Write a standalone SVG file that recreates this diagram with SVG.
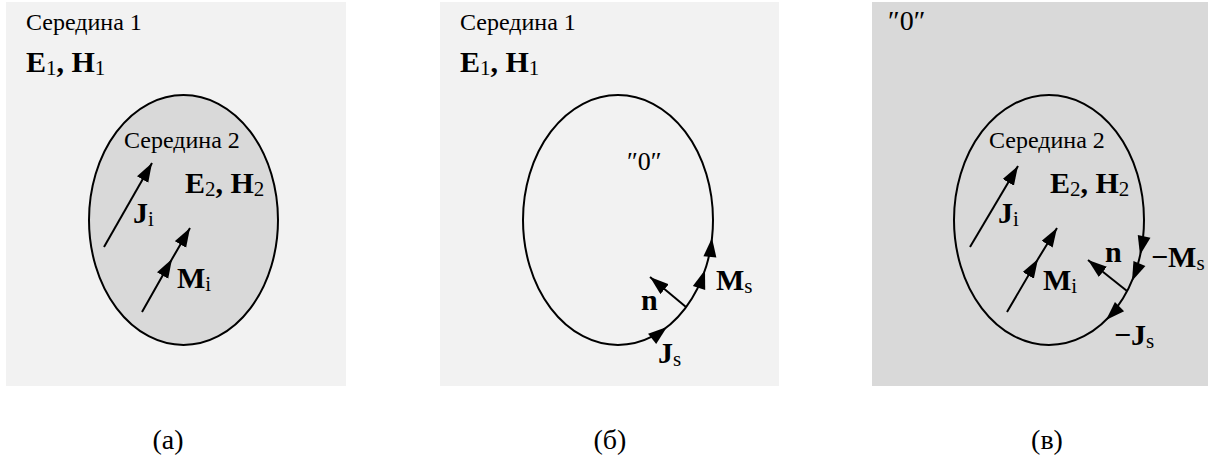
<svg xmlns="http://www.w3.org/2000/svg" width="1208" height="461" viewBox="0 0 1208 461">
<style>
text{font-family:"Liberation Serif","Times New Roman",serif;fill:#000}
.t{font-size:24px}
.z{font-size:26px}
.b{font-size:30px;font-weight:bold}
.s{font-size:21px;font-weight:normal}
.c{font-size:28px}
.ln{stroke:#000;stroke-width:2;fill:none}
.ah{fill:#000}
</style>
<defs>
<marker id="arr" markerUnits="userSpaceOnUse" markerWidth="20" markerHeight="14" refX="19" refY="6.5" orient="auto">
<path d="M0,0 L19,6.5 L0,13 z" fill="#000"/>
</marker>
<path id="ah" d="M0,0 L-19,-6.5 L-19,6.5 z"/>
</defs>
<g id="panel-a">
<rect x="6" y="2" width="340" height="384" fill="#f2f2f2"/>
<ellipse cx="183.5" cy="220" rx="94.5" ry="125" fill="#d9d9d9" stroke="#000" stroke-width="2"/>
<text class="t" x="26" y="30">Середина 1</text>
<text class="b" x="26" y="72">E<tspan class="s" dy="3">1</tspan><tspan dy="-3">, H</tspan><tspan class="s" dy="3">1</tspan></text>
<text class="t" x="124" y="148">Середина 2</text>
<text class="b" x="185" y="193">E<tspan class="s" dy="3">2</tspan><tspan dy="-3">, H</tspan><tspan class="s" dy="3">2</tspan></text>
<text class="b" x="133" y="223">J<tspan class="s" dy="3">i</tspan></text>
<text class="b" x="177" y="288">M<tspan class="s" dy="3">i</tspan></text>
</g>
<g id="panel-b">
<rect x="440" y="2" width="339" height="384" fill="#f2f2f2"/>
<ellipse cx="618" cy="220" rx="95" ry="125" fill="none" stroke="#000" stroke-width="2"/>
<text class="t" x="460" y="30">Середина 1</text>
<text class="b" x="460" y="72">E<tspan class="s" dy="3">1</tspan><tspan dy="-3">, H</tspan><tspan class="s" dy="3">1</tspan></text>
<text class="z" x="627" y="170">″0″</text>
<text class="b" x="641" y="310">n</text>
<text class="b" x="716" y="290">M<tspan class="s" dy="3">s</tspan></text>
<text class="b" x="658" y="363">J<tspan class="s" dy="3">s</tspan></text>
</g>
<g id="panel-c">
<rect x="872" y="2" width="336" height="384" fill="#d9d9d9"/>
<ellipse cx="1049" cy="220" rx="95" ry="125" fill="none" stroke="#000" stroke-width="2"/>
<text class="c" x="888" y="30">″0″</text>
<text class="t" x="989" y="148">Середина 2</text>
<text class="b" x="1050" y="193">E<tspan class="s" dy="3">2</tspan><tspan dy="-3">, H</tspan><tspan class="s" dy="3">2</tspan></text>
<text class="b" x="998" y="223">J<tspan class="s" dy="3">i</tspan></text>
<text class="b" x="1043" y="290">M<tspan class="s" dy="3">i</tspan></text>
<text class="b" x="1105" y="262">n</text>
<text class="b" x="1151" y="267">−M<tspan class="s" dy="3">s</tspan></text>
<text class="b" x="1114" y="345">−J<tspan class="s" dy="3">s</tspan></text>
</g>
<g id="captions">
<text class="c" x="168" y="449" text-anchor="middle">(a)</text>
<text class="c" x="610" y="449" text-anchor="middle">(б)</text>
<text class="c" x="1047" y="449" text-anchor="middle">(в)</text>
</g>
<g id="connectors">
<line class="ln" x1="104" y1="247" x2="152" y2="163" marker-end="url(#arr)"/>
<polyline class="ln" points="142,312 172,259 190,228" marker-mid="url(#arr)" marker-end="url(#arr)"/>
<line class="ln" x1="686" y1="307" x2="650" y2="277" marker-end="url(#arr)"/>
<use href="#ah" class="ah" transform="translate(712,238) rotate(-83.7)"/>
<use href="#ah" class="ah" transform="translate(705,270) rotate(-71.7)"/>
<use href="#ah" class="ah" transform="translate(667,327) rotate(-38.5)"/>
<line class="ln" x1="970" y1="247" x2="1018" y2="166" marker-end="url(#arr)"/>
<polyline class="ln" points="1007,312 1038,259 1057,228" marker-mid="url(#arr)" marker-end="url(#arr)"/>
<line class="ln" x1="1127" y1="291" x2="1088" y2="260" marker-end="url(#arr)"/>
<use href="#ah" class="ah" transform="translate(1140,255) rotate(102.5)"/>
<use href="#ah" class="ah" transform="translate(1132,281) rotate(113)"/>
<use href="#ah" class="ah" transform="translate(1106,320) rotate(135.4)"/>
</g>
</svg>
